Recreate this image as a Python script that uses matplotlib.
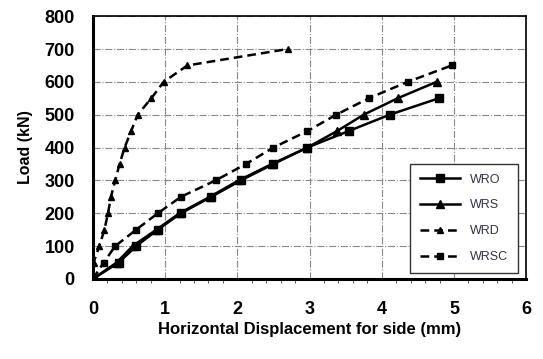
import matplotlib.pyplot as plt
import numpy as np
from matplotlib.ticker import MultipleLocator

plt.rcParams['font.family'] = ['Liberation Sans', 'DejaVu Sans']

# load-displacement readings
wro_x = [0, 0.36, 0.6, 0.9, 1.22, 1.64, 2.05, 2.5, 2.97, 3.54, 4.11, 4.79]
wro_y = [0, 50, 100, 150, 200, 250, 300, 350, 400, 450, 500, 550]

wrs_x = [0, 0.33, 0.55, 0.88, 1.2, 1.62, 2.02, 2.48, 2.97, 3.38, 3.75, 4.22, 4.76]
wrs_y = [0, 50, 100, 150, 200, 250, 300, 350, 400, 450, 500, 550, 600]

wrd_x = [0, 0.01, 0.09, 0.16, 0.21, 0.25, 0.31, 0.37, 0.44, 0.53, 0.62, 0.81, 0.98, 1.31, 2.7]
wrd_y = [0, 50, 100, 150, 200, 250, 300, 350, 400, 450, 500, 550, 600, 650, 700]

wrsc_x = [0, 0.15, 0.31, 0.6, 0.9, 1.22, 1.7, 2.12, 2.5, 2.97, 3.37, 3.82, 4.36, 4.97]
wrsc_y = [0, 50, 100, 150, 200, 250, 300, 350, 400, 450, 500, 550, 600, 650]

fig = plt.figure(figsize=(5.43, 3.59), dpi=100)
ax = fig.add_axes([0.171, 0.223, 0.798, 0.732])

ax.plot(wro_x, wro_y, color='black', lw=1.8, marker='s', ms=6, label='WRO')
ax.plot(wrs_x, wrs_y, color='black', lw=1.8, marker='^', ms=6, label='WRS')
ax.plot(wrd_x, wrd_y, color='black', lw=1.8, ls=(0, (3.5, 2)), marker='^', ms=5, label='WRD')
ax.plot(wrsc_x, wrsc_y, color='black', lw=1.8, ls=(0, (3.5, 2)), marker='s', ms=5, label='WRSC')

ax.set_xlim(0, 6)
ax.set_ylim(0, 800)
ax.xaxis.set_major_locator(MultipleLocator(1))
ax.xaxis.set_minor_locator(MultipleLocator(0.2))
ax.yaxis.set_major_locator(MultipleLocator(100))

ax.grid(True, which='major', color='#888888', ls='-.', lw=0.8)
ax.tick_params(axis='both', which='major', length=0, labelsize=13)
ax.tick_params(axis='y', which='major', pad=13)
ax.tick_params(axis='x', which='major', pad=16)
ax.tick_params(axis='x', which='minor', length=3, direction='out', color='#444444')
for lbl in ax.get_xticklabels() + ax.get_yticklabels():
    lbl.set_fontweight('bold')

for side in ['left', 'bottom']:
    ax.spines[side].set_linewidth(2.2)
for side in ['top', 'right']:
    ax.spines[side].set_linewidth(1.2)

ax.set_xlabel('Horizontal Displacement for side (mm)', fontsize=12, fontweight='bold', labelpad=3)
ax.set_ylabel('Load (kN)', fontsize=11.5, fontweight='bold', labelpad=8)

leg = ax.legend(loc='lower right', bbox_to_anchor=(0.982, 0.023), borderaxespad=0,
                fontsize=9, fancybox=False, framealpha=1, edgecolor='#333333',
                handlelength=3.2, labelspacing=1.1, borderpad=0.8)
leg.get_frame().set_linewidth(1.0)
for t in leg.get_texts():
    t.set_color('#333344')

fig.savefig('out.png', dpi=100)
